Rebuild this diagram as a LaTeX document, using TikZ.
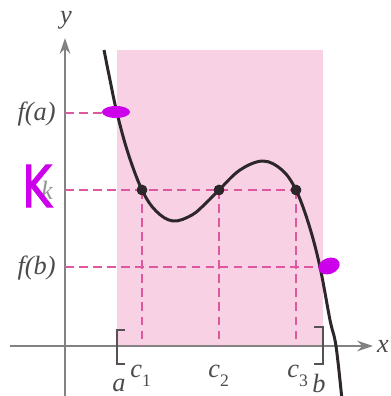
\documentclass[tikz,border=0pt]{standalone}
\usepackage{fontspec}
\setmainfont{Liberation Serif}
\newfontfamily\handfont[FakeBold=1.8]{DejaVu Sans}
\usetikzlibrary{arrows.meta}
\definecolor{pinkfill}{RGB}{248,210,228}
\definecolor{dashpink}{RGB}{222,88,160}
\definecolor{axisgray}{RGB}{130,130,130}
\definecolor{labgray}{RGB}{75,75,75}
\definecolor{curvecol}{RGB}{45,38,42}
\definecolor{marker}{RGB}{205,0,235}
\tikzset{
  axisline/.style={draw=axisgray,line width=1.1pt,-{Stealth[length=9pt,width=6pt]}},
  guide/.style={draw=dashpink,line width=1.1pt,dash pattern=on 5pt off 3pt},
  curveline/.style={draw=curvecol,line width=1.7pt},
  lab/.style={text=labgray,font=\fontsize{15}{17}\selectfont\itshape,inner sep=0pt},
  pt/.style={circle,fill=curvecol,inner sep=0pt,minimum size=6pt},
  brack/.style={draw=curvecol!80,line width=1.1pt},
  blob/.style={fill=marker,draw=none}
}
\begin{document}
\begin{tikzpicture}[x=0.02cm,y=-0.02cm]
\useasboundingbox (0,0) rectangle (390,396);
% pink region
\fill[pinkfill] (117,50) rectangle (323,346);
% axes
\coordinate (xs) at (10,346);
\coordinate (xe) at (373,346);
\coordinate (ys) at (65,400);
\coordinate (ye) at (65,38);
\draw[axisline] (xs) -- (xe);
\draw[axisline] (ys) -- (ye);
\node[lab] (ylab) at (66,20) {y};
\node[lab] (xlab) at (383,346) {x};
% key points
\coordinate (fa) at (117,113);
\coordinate (fb) at (320,267);
\coordinate (ya) at (65,113);
\coordinate (yk) at (65,190);
\coordinate (yb) at (65,267);
\node[pt] (p1) at (142,190) {};
\node[pt] (p2) at (219,190) {};
\node[pt] (p3) at (296,190) {};
\coordinate (x1) at (142,346);
\coordinate (x2) at (219,346);
\coordinate (x3) at (296,346);
% dashed guides
\draw[guide] (ya) -- (fa);
\draw[guide] (yk) -- (p3.center);
\draw[guide] (yb) -- (fb);
\draw[guide] (p1.center) -- (x1);
\draw[guide] (p2.center) -- (x2);
\draw[guide] (p3.center) -- (x3);
% curve
\draw[curveline] plot[smooth,tension=0.6] coordinates {(104,50) (110,80) (117,113) (128,153) (142,190) (156,211) (173,221) (192,215) (206,203) (219,190) (240,170) (263,161) (282,170) (296,190) (309,225) (320,267) (330,320) (336,346) (342,400)};
\node[pt] at (p1) {};
\node[pt] at (p2) {};
\node[pt] at (p3) {};
% brackets
\draw[brack] (125,330) -- (117,330) -- (117,364) -- (125,364);
\draw[brack] (314,327) -- (323,327) -- (323,364) -- (314,364);
% labels
\node[lab,anchor=east] (lfa) at (56,114) {f(a)};
\node[lab,anchor=east] (lfb) at (56,268) {f(b)};
\node[lab,text=labgray!60] (lk) at (47,190) {k};
\node[lab,anchor=base west] (lc1) at (130,377) {c\raisebox{-0.35em}{\fontsize{10}{12}\selectfont\upshape 1}};
\node[lab,anchor=base west] (lc2) at (208,377) {c\raisebox{-0.35em}{\fontsize{10}{12}\selectfont\upshape 2}};
\node[lab,anchor=base west] (lc3) at (287,377) {c\raisebox{-0.35em}{\fontsize{10}{12}\selectfont\upshape 3}};
\node[lab,anchor=base] (la) at (119,391) {a};
\node[lab,anchor=base] (lb) at (319,392) {b};
% handwritten marks
\node[text=marker,inner sep=0pt] (kmark) at (37,186) {\handfont\fontsize{33}{35}\selectfont\scalebox{0.78}[1]{K}};
\fill[blob] (116,112) ellipse [x radius=14, y radius=6];
\fill[blob,rotate around={20:(329,266)}] (329,266) ellipse [x radius=11, y radius=8];
\end{tikzpicture}
\end{document}
